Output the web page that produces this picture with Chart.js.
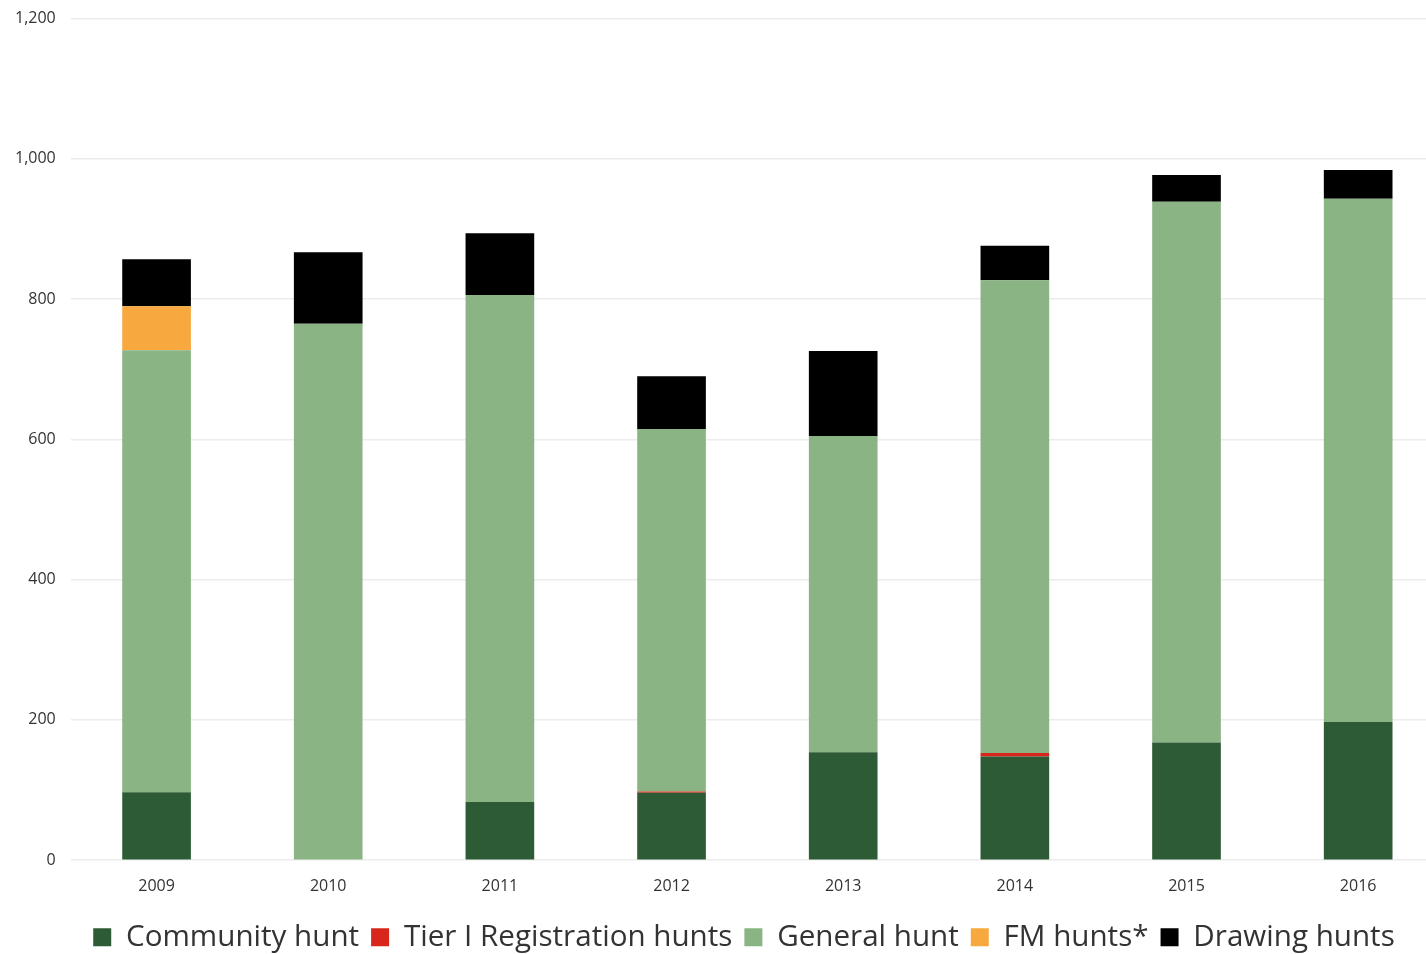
<!DOCTYPE html>
<html>
<head>
<meta charset="utf-8">
<script src="https://cdn.jsdelivr.net/npm/chart.js@4/dist/chart.umd.min.js"></script>
<style>
    html, body { margin: 0; padding: 0; background: #fff; overflow: hidden; }
    #wrap { width: 1444px; height: 963px; margin-top: -6px; }
</style>
</head>
<body>
<div id="wrap"><canvas id="huntChart"></canvas></div>
<script>
// Years along the bottom
const years = ['2009', '2010', '2011', '2012', '2013', '2014', '2015', '2016'];

// Harvest by hunt type
const communityHunt = [97, 0, 83, 96, 154, 148, 168, 197];
const tierOneHunts = [0, 0, 0, 2, 0, 5, 0, 0];
const generalHunt = [630, 765, 723, 517, 451, 674, 771, 746];
const fmHunts = [63, 0, 0, 0, 0, 0, 0, 0];
const drawingHunts = [67, 102, 88, 75, 121, 49, 38, 41];

const yTicks = [0, 200, 400, 600, 800, 1000, 1200];

const ctx = document.getElementById('huntChart').getContext('2d');

function makeSet(label, data, color) {
    return {
        label: label,
        data: data,
        backgroundColor: color,
        borderWidth: 0,
        categoryPercentage: 1,
        barPercentage: 0.4
    };
}

// nudges the legend down/right a bit without squeezing the plot
const legendNudge = {
    id: 'legendNudge',
    afterUpdate(chart) {
        const lg = chart.legend;
        lg.top += 5; lg.bottom += 5;
        lg.left += 22; lg.right += 22;
    }
};

new Chart(ctx, {
    type: 'bar',
    data: {
        labels: years,
        datasets: [
            makeSet('Community hunt', communityHunt, '#2d5b35'),
            makeSet('Tier I Registration hunts', tierOneHunts, '#d9261c'),
            makeSet('General hunt', generalHunt, '#8bb485'),
            makeSet('FM hunts*', fmHunts, '#f7a83e'),
            makeSet('Drawing hunts', drawingHunts, '#000000')
        ]
    },
    options: {
        responsive: true,
        maintainAspectRatio: false,
        animation: false,
        layout: { padding: { top: 0, left: 0, right: 0, bottom: 0 } },
        scales: {
            x: {
                stacked: true,
                grid: { display: false },
                border: { display: false },
                ticks: { color: '#333', font: { family: 'Open Sans', size: 16 }, padding: 9 }
            },
            y: {
                stacked: true,
                min: 0,
                max: 1200,
                afterBuildTicks: function (axis) {
                    axis.ticks = yTicks.map(function (v) { return { value: v }; });
                },
                grid: { color: '#ececec', lineWidth: 1.5, drawTicks: false },
                border: { display: false },
                ticks: {
                    color: '#333',
                    font: { family: 'Open Sans', size: 16 },
                    padding: 15,
                    callback: function (value) { return value.toLocaleString('en-US'); }
                }
            }
        },
        plugins: {
            legend: {
                position: 'bottom',
                labels: {
                    color: '#333',
                    font: { family: 'Open Sans', size: 29.6 },
                    boxWidth: 18,
                    boxHeight: 18,
                    padding: 12
                }
            },
            tooltip: { enabled: false }
        }
    },
    plugins: [legendNudge]
});
</script>
</body>
</html>
